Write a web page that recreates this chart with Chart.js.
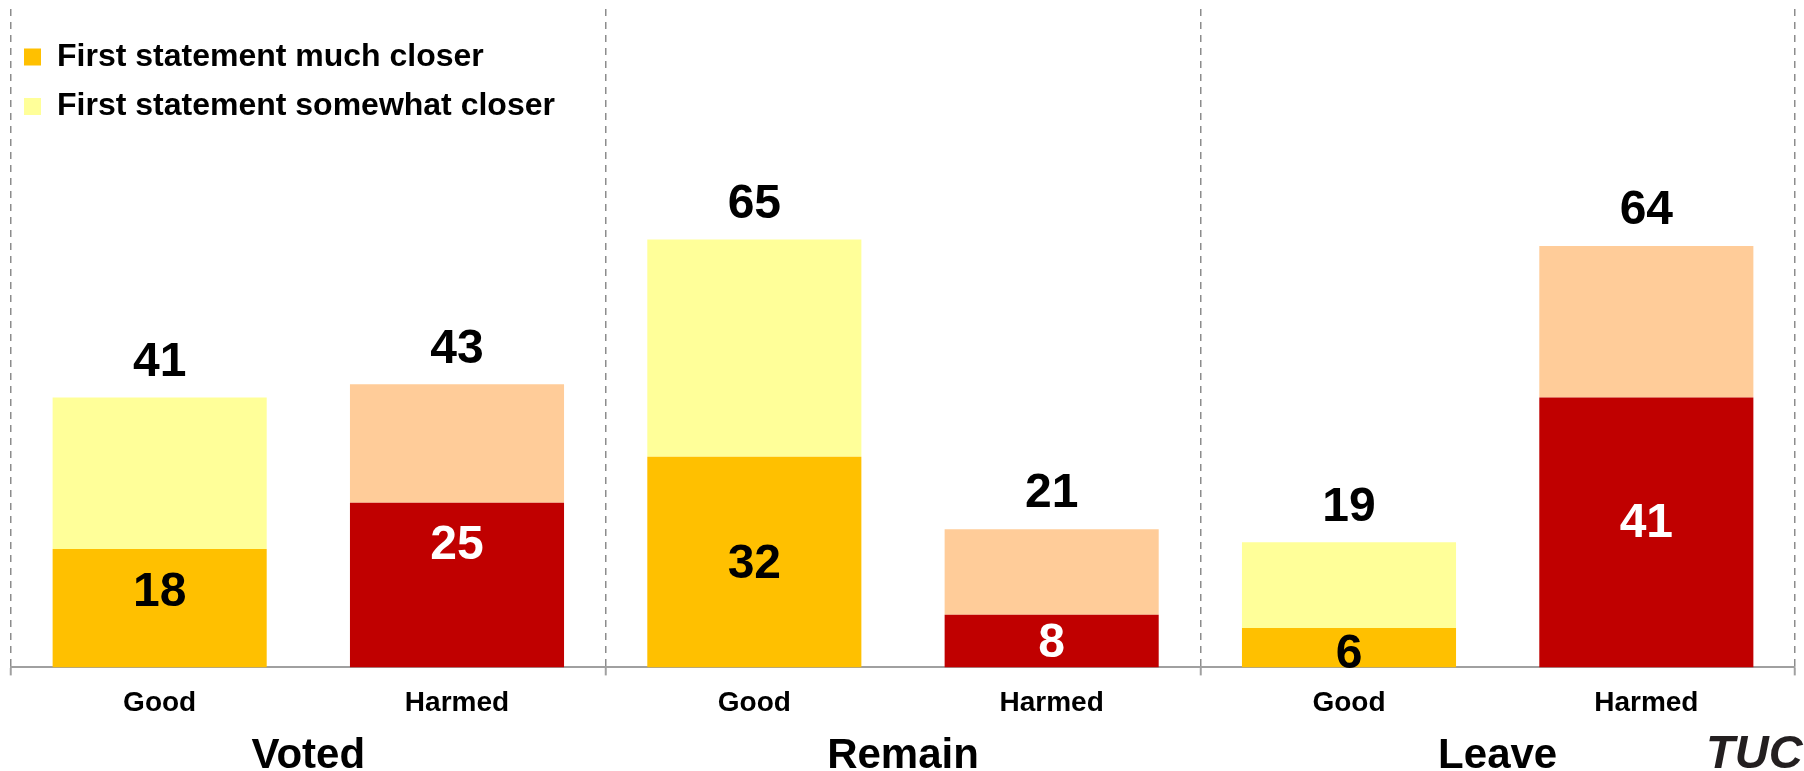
<!DOCTYPE html>
<html>
<head>
<meta charset="utf-8">
<script src="https://cdn.jsdelivr.net/npm/chart.js@4/dist/chart.umd.min.js"></script>
<style>
  html, body { margin: 0; padding: 0; background: #ffffff; }
  #wrap { width: 1804px; height: 771px; }
</style>
</head>
<body>
<div id="wrap"><canvas id="c" width="1804" height="771"></canvas></div>
<script>
// ---- data ----
const categories = ['Good', 'Harmed', 'Good', 'Harmed', 'Good', 'Harmed'];
const groups = ['Voted', 'Remain', 'Leave'];
const seriesNames = ['First statement much closer', 'First statement somewhat closer'];
const muchCloser = [18, 25, 32, 8, 6, 41];
const somewhatCloser = [23, 18, 33, 13, 13, 23];
const totals = [41, 43, 65, 21, 19, 64];

// ---- styles ----
const FONT = "'Liberation Sans', Arial, Helvetica, sans-serif";
const goodColors = ['#FFC000', '#FFFF99'];
const harmedColors = ['#C00000', '#FFCC99'];
const colorFor = (series) => categories.map(c => c === 'Harmed' ? harmedColors[series] : goodColors[series]);
const innerNudge = [-15, -39, 3, 3, 7, -9];

const labelsPlugin = {
  id: 'barLabels',
  afterDatasetsDraw(chart) {
    const ctx = chart.ctx;
    const m0 = chart.getDatasetMeta(0);
    const m1 = chart.getDatasetMeta(1);
    ctx.save();
    ctx.font = 'bold 48px ' + FONT;
    ctx.textAlign = 'center';
    ctx.textBaseline = 'middle';
    m0.data.forEach((bar, i) => {
      const y = (bar.y + bar.base) / 2 + innerNudge[i];
      ctx.fillStyle = categories[i] === 'Harmed' ? '#FFFFFF' : '#000000';
      ctx.fillText(String(muchCloser[i]), bar.x, y);
    });
    m1.data.forEach((bar, i) => {
      ctx.fillStyle = '#000000';
      ctx.fillText(String(totals[i]), bar.x, bar.y - 35);
    });
    ctx.restore();
  },
  afterDraw(chart) {
    const ctx = chart.ctx;
    const xs = chart.scales.x;
    ctx.save();
    ctx.font = 'bold 42px ' + FONT;
    ctx.fillStyle = '#000000';
    ctx.textAlign = 'center';
    ctx.textBaseline = 'middle';
    groups.forEach((g, k) => {
      const x = (xs.getPixelForValue(2 * k) + xs.getPixelForValue(2 * k + 1)) / 2;
      ctx.fillText(g, x, 756);
    });
    // TUC logo text
    ctx.font = 'italic bold 47px ' + FONT;
    ctx.fillStyle = '#231F20';
    ctx.textAlign = 'left';
    ctx.textBaseline = 'alphabetic';
    ctx.fillText('TUC', 1706, 768);
    ctx.restore();
  }
};

new Chart(document.getElementById('c'), {
  type: 'bar',
  data: {
    labels: categories,
    datasets: [
      { label: seriesNames[0], data: muchCloser, backgroundColor: colorFor(0), borderWidth: 0 },
      { label: seriesNames[1], data: somewhatCloser, backgroundColor: colorFor(1), borderWidth: 0 }
    ]
  },
  options: {
    responsive: false,
    animation: false,
    devicePixelRatio: 1,
    layout: { padding: { left: 11, right: 9, top: 9, bottom: 40 } },
    datasets: { bar: { categoryPercentage: 1.0, barPercentage: 0.72 } },
    scales: {
      x: {
        stacked: true,
        grid: {
          display: true,
          offset: true,
          drawOnChartArea: true,
          drawTicks: true,
          tickLength: 8,
          lineWidth: 1.5,
          tickWidth: 2,
          tickBorderDash: [],
          color: (ctx) => (ctx.index === undefined || ctx.index % 2 === 0) ? '#8C8C8C' : 'rgba(0,0,0,0)',
          tickColor: (ctx) => (ctx.index === undefined || ctx.index % 2 === 0) ? '#A0A0A0' : 'rgba(0,0,0,0)'
        },
        border: { display: true, color: '#A0A0A0', width: 2, dash: [7, 6] },
        ticks: {
          color: '#000000',
          padding: 11,
          font: { family: FONT, size: 28, weight: 'bold', lineHeight: 1.2 }
        }
      },
      y: {
        stacked: true,
        display: false,
        min: 0,
        max: 100
      }
    },
    plugins: {
      tooltip: { enabled: false },
      legend: {
        display: true,
        position: 'chartArea',
        align: 'start',
        title: { display: true, text: '', padding: { top: 18, bottom: 0 }, font: { size: 10, lineHeight: 1 } },
        labels: {
          boxWidth: 17,
          boxHeight: 17,
          padding: 13,
          color: '#000000',
          font: { family: FONT, size: 32, weight: 'bold', lineHeight: 1.14 },
          generateLabels: () => seriesNames.map((name, i) => ({
            text: [name],
            fillStyle: goodColors[i],
            strokeStyle: goodColors[i],
            fontColor: '#000000',
            lineWidth: 0,
            hidden: false,
            datasetIndex: i
          }))
        }
      }
    }
  },
  plugins: [labelsPlugin]
});
</script>
</body>
</html>
